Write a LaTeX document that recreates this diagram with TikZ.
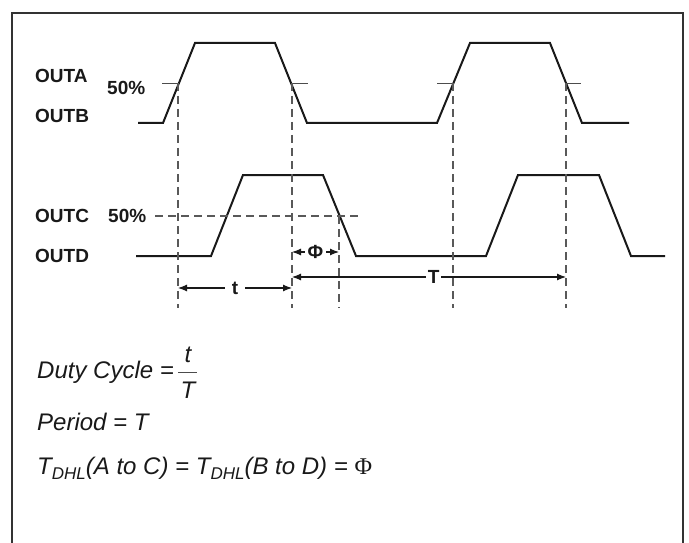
\documentclass[tikz,border=0pt]{standalone}
\usepackage{fontspec}
\setmainfont{Liberation Sans}
\newfontfamily\phiserif{Liberation Serif}
\usetikzlibrary{arrows.meta}
\begin{document}
\begin{tikzpicture}[x=1pt,y=-1pt,
  wave/.style={line width=2pt, line join=miter, black!90},
  guide/.style={line width=1.1pt, black!65, dash pattern=on 8pt off 5pt},
  tickline/.style={line width=0.9pt, black!70},
  frame/.style={line width=2.6pt, black!80},
  lbl/.style={font=\fontsize{19}{22}\selectfont\bfseries, text=black!90, inner sep=0pt, anchor=base west},
  dimlbl/.style={font=\fontsize{19}{22}\selectfont\bfseries, text=black!90, fill=white, anchor=center},
  dimarrow/.style={line width=1.1pt, black!90, {Latex[length=9pt,width=7pt]}-{Latex[length=9pt,width=7pt]}},
  eq/.style={font=\fontsize{24}{28}\selectfont\itshape, text=black!90, inner sep=0pt, anchor=base west},
]
\useasboundingbox (0,0) rectangle (689,543);
\draw[frame] (12,560) -- (12,13) -- (683,13) -- (683,560);

% waveforms
\draw[wave] (138,123) -- (163,123) -- (195,43) -- (275,43) -- (307,123) -- (437,123) -- (470,43) -- (550,43) -- (582,123) -- (629,123);
\draw[wave] (136,256) -- (211,256) -- (243,175) -- (323,175) -- (356,256) -- (486,256) -- (518,175) -- (599,175) -- (631,256) -- (665,256);

% crossing coordinates
\coordinate (c1) at (178,83);
\coordinate (c2) at (292,83);
\coordinate (c3) at (453,83);
\coordinate (c4) at (566,83);
\coordinate (c5) at (339,216);
\coordinate (b1) at (178,308);
\coordinate (b2) at (292,308);
\coordinate (b3) at (453,308);
\coordinate (b4) at (566,308);
\coordinate (b5) at (339,308);

% 50% ticks on top waveform
\draw[tickline] (162,83) -- (c1);
\draw[tickline] (c2) -- (308,83);
\draw[tickline] (437,83) -- (c3);
\draw[tickline] (c4) -- (581,83);

% dashed guides
\draw[guide] (c1) -- (b1);
\draw[guide] (c2) -- (b2);
\draw[guide] (c3) -- (b3);
\draw[guide] (c4) -- (b4);
\draw[guide] (c5) -- (b5);
\coordinate (h1) at (155,216);
\coordinate (h2) at (360,216);
\draw[guide] (h1) -- (h2);

% labels
\node[lbl] (outa) at (35,83) {OUTA};
\node[lbl] (p50a) at (107,95) {50\%};
\node[lbl] (outb) at (35,122) {OUTB};
\node[lbl] (outc) at (35,222) {OUTC};
\node[lbl] (p50b) at (108,222) {50\%};
\node[lbl] (outd) at (35,262) {OUTD};

% dimension arrows
\coordinate (phiL) at (292,252);
\coordinate (phiR) at (339,252);
\draw[dimarrow] (phiL) -- node[dimlbl, inner sep=3pt] (phi) {Φ} (phiR);
\coordinate (TL) at (292,277);
\coordinate (TR) at (566,277);
\draw[dimarrow] (TL) -- node[dimlbl, inner sep=2pt, pos=0.517] (Tl) {T} (TR);
\coordinate (tL) at (178,288);
\coordinate (tR) at (292,288);
\draw[dimarrow] (tL) -- node[dimlbl, inner sep=7pt] (tl) {t} (tR);

% equations
\node[eq] (duty) at (37,378) {Duty Cycle =};
\node[eq, anchor=base] (num) at (188,362) {t};
\node[eq, anchor=base] (den) at (188,398) {T};
\draw[line width=0.9pt, black!70] (178,372) -- (197,372);
\node[eq] (period) at (37,430) {Period = T};
\node[eq] (tdhl) at (37,474) {T{\fontsize{17}{20}\selectfont\raisebox{-5pt}{DHL}}(A to C) = T{\fontsize{17}{20}\selectfont\raisebox{-5pt}{DHL}}(B to D) = {\phiserif\upshape Φ}};
\end{tikzpicture}
\end{document}
